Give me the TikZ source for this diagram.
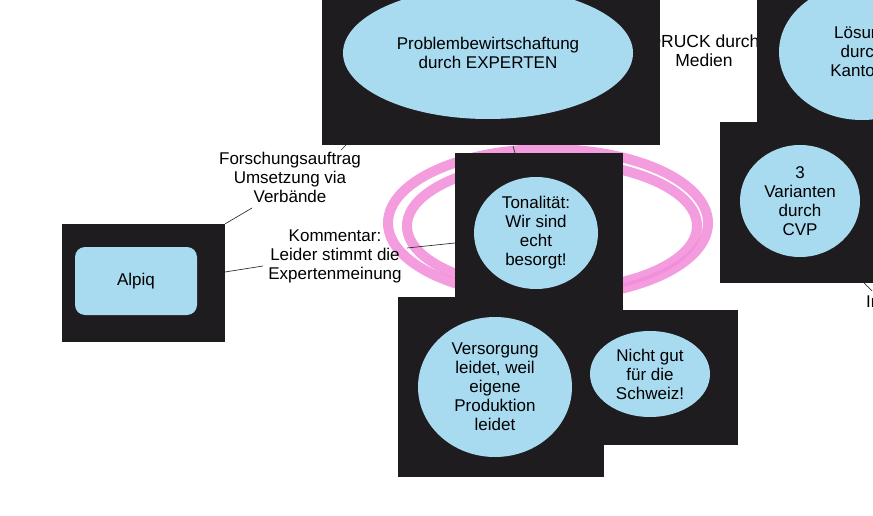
\documentclass[tikz,border=0pt]{standalone}
\usepackage{fontspec}
\setmainfont{Liberation Sans}
\usetikzlibrary{shapes.geometric}
\definecolor{boxblack}{RGB}{30,28,30}
\definecolor{lblue}{RGB}{168,218,240}
\definecolor{pinkmark}{RGB}{242,140,218}
\begin{document}
\begin{tikzpicture}[x=1pt,y=-1pt,
  every node/.style={font=\fontsize{17}{19}\selectfont, align=center, inner sep=0pt},
  blackbox/.style={draw=none, fill=boxblack, rectangle, inner sep=0pt},
  bubble/.style={ellipse, fill=lblue, draw=none, inner sep=0pt},
  thinline/.style={draw=black!80, line width=0.7pt},
  marker/.style={draw=pinkmark, line width=10pt, opacity=0.85}]
\useasboundingbox (0,0) rectangle (873,516);
\clip (0,0) rectangle (873,516);
\fill[white] (0,0) rectangle (873,516);

% pink highlighter loops
\draw[marker] (548,223) ellipse [x radius=160, y radius=74];
\draw[marker] (552,226) ellipse [x radius=145, y radius=64];

% text partly hidden behind the boxes
\node[font=\fontsize{17.5}{19}\selectfont] (druck) at (704,51) {DRUCK durch\\Medien};

% black boxes
\node[blackbox, minimum width=338, minimum height=160] (topbox) at (491,65) {};
\node[blackbox, minimum width=150, minimum height=142] (rtop) at (832,51) {};
\node[blackbox, minimum width=180, minimum height=161] (rbot) at (810,202.5) {};
\node[blackbox, minimum width=148, minimum height=135] (nbox) at (664,377.5) {};
\node[blackbox, minimum width=168, minimum height=159] (tonbox) at (539,232.5) {};
\node[blackbox, minimum width=206, minimum height=180] (lbox) at (501,387) {};
\node[blackbox, minimum width=163, minimum height=118] (alpiqbox) at (143.5,283) {};

% bubbles
\node[bubble, minimum width=290, minimum height=132] (experten) at (488,53) {Problembewirtschaftung\\durch EXPERTEN};
\node[bubble, minimum width=166, minimum height=136] (kanton) at (862,52) {Lösung\\durch\\Kantone};
\node[bubble, minimum width=120, minimum height=112] (cvp) at (800,201) {3\\Varianten\\durch\\CVP};
\node[bubble, minimum width=124, minimum height=112] (ton) at (536,233) {Tonalität:\\Wir sind\\echt\\besorgt!};
\node[bubble, minimum width=154, minimum height=140] (vers) at (495,387) {Versorgung\\leidet, weil\\eigene\\Produktion\\leidet};
\node[bubble, minimum width=120, minimum height=86] (nicht) at (650,374) {Nicht gut\\für die\\Schweiz!};
\node[draw=none, fill=lblue, rounded corners=10pt, minimum width=122, minimum height=68] (alpiq) at (136,281) {Alpiq};

% labels
\node (forsch) at (290,177) {Forschungsauftrag\\Umsetzung via\\Verbände};
\node (komm) at (335,256) {Kommentar:\\Leider stimmt die\\Expertenmeinung};
\node[anchor=west] (inlabel) at (866,302) {In};

% connectors
\coordinate (f1) at (252,208);
\coordinate (f2) at (341,150);
\coordinate (k1) at (263,266);
\coordinate (k2) at (407,248);
\coordinate (t1) at (455,243);
\coordinate (tt) at (513,146);
\coordinate (tb) at (515,153);
\coordinate (i0) at (864,283);
\coordinate (i1) at (872,291);
\draw[thinline] (alpiqbox.north east) -- (f1);
\draw[thinline] (f2) -- (346,145);
\draw[thinline] (225,272) -- (k1);
\draw[thinline] (k2) -- (t1);
\draw[thinline] (tt) -- (tb);
\draw[thinline] (i0) -- (i1);
\end{tikzpicture}
\end{document}
